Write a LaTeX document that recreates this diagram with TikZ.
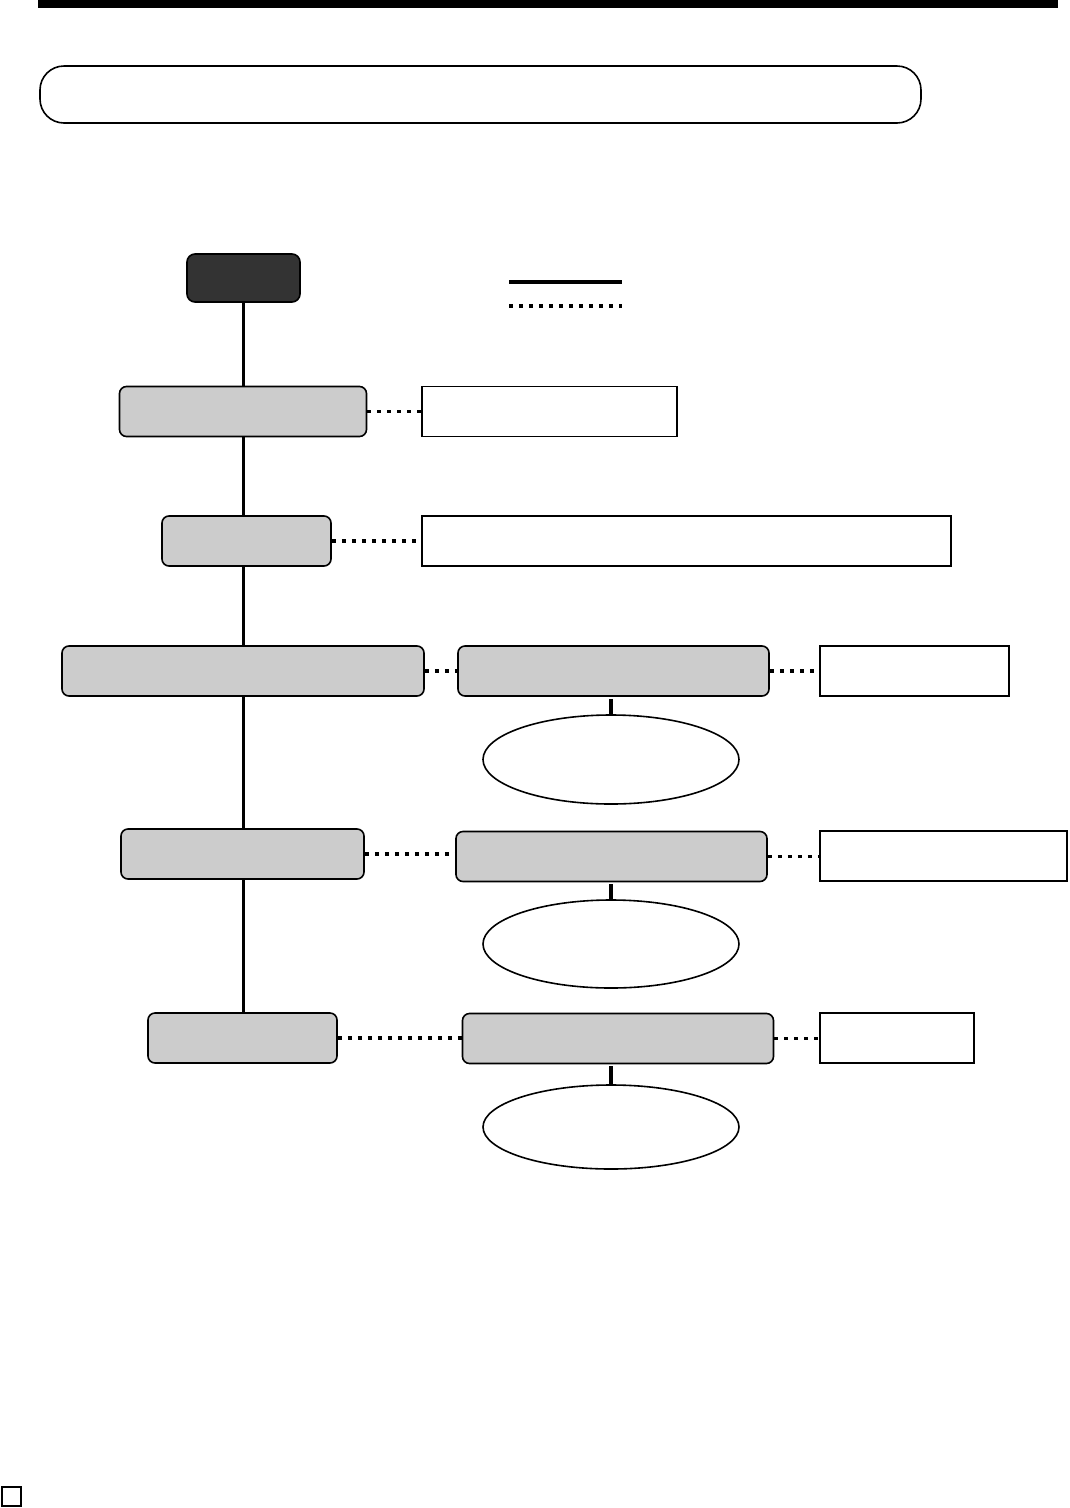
\documentclass[tikz,border=0pt]{standalone}
\usetikzlibrary{shapes.geometric}
\definecolor{boxgray}{HTML}{CCCCCC}
\definecolor{startgray}{HTML}{333333}

\begin{document}
\begin{tikzpicture}[x=1pt, y=-1pt,
	greybox/.style={draw, line width=1.6pt, rounded corners=7pt,
		fill=boxgray, inner sep=0pt, minimum height=50pt},
	notebox/.style={draw, line width=1.6pt, fill=white,
		inner sep=0pt, minimum height=50pt},
	oval/.style={ellipse, draw, line width=1.6pt, inner sep=0pt,
		minimum width=256pt},
	spine/.style={line width=3.4pt},
	stem/.style={line width=3.6pt},
	dots/.style={line width=3.6pt, dash pattern=on 4pt off 6pt}
]

\useasboundingbox (0,0) rectangle (1070,1508);

% Top rule and title
\fill (38,0) rectangle (1058,8);
\node[draw, line width=1.6pt, rounded corners=24pt, inner sep=0pt,
	minimum width=881pt, minimum height=57pt] (title) at (480.5,94.5) {};

% Legend
\coordinate (solid-l) at (509,282);
\coordinate (solid-r) at (622,282);
\coordinate (dot-l) at (509,306);
\coordinate (dot-r) at (622,306);
\draw[line width=3.6pt] (solid-l) -- (solid-r);
\draw[dots] (dot-l) -- (dot-r);

% Main steps
\node[greybox, fill=startgray, rounded corners=8pt,
	minimum width=113pt, minimum height=48pt] (start) at (243.5,278) {};
\node[greybox, minimum width=247pt] (A) at (243,411.5) {};
\node[greybox, minimum width=169pt] (B) at (246.5,541) {};
\node[greybox, minimum width=362pt] (C) at (243,671) {};
\node[greybox, minimum width=243pt] (D) at (242.5,854) {};
\node[greybox, minimum width=189pt] (E) at (242.5,1038) {};

% Sub steps
\foreach \n/\x/\y in {C/613.5/671, D/611.5/856.5, E/618/1038.5}
{
	\node[greybox, minimum width=311pt] (\n-sub) at (\x,\y) {};
}

% Results
\foreach \n/\y/\h in {C/759.5/89, D/944/88, E/1127/84}
{
	\node[oval, minimum height=\h pt] (\n-oval) at (611,\y) {};
}

% Notes
\node[notebox, minimum width=255pt] (A-note) at (549.5,411.5) {};
\node[notebox, minimum width=529pt] (B-note) at (686.5,541) {};
\node[notebox, minimum width=189pt] (C-note) at (914.5,671) {};
\node[notebox, minimum width=247pt] (D-note) at (943.5,856) {};
\node[notebox, minimum width=154pt] (E-note) at (897,1038) {};

% Connect main steps
\foreach \a/\b in {start/A, A/B, B/C, C/D, D/E}
{
	\draw[spine] (\a.south -| start) -- (\b.north -| start);
}

% Connect steps to notes
\foreach \n in {A,B}
{
	\draw[dots] (\n.east) -- (\n-note.west);
}
\foreach \n in {C,D,E}
{
	\draw[dots] (\n.east) -- (\n.east -| \n-sub.west);
	\draw[dots] (\n-sub.east) -- (\n-sub.east -| \n-note.west);
	\draw[stem] ([yshift=-2pt]\n-sub.south -| \n-oval) -- (\n-oval.north);
}

% Page mark
\node[draw, line width=1.2pt, inner sep=0pt, minimum size=19pt]
	(mark) at (11.5,1496.5) {};

\end{tikzpicture}
\end{document}
